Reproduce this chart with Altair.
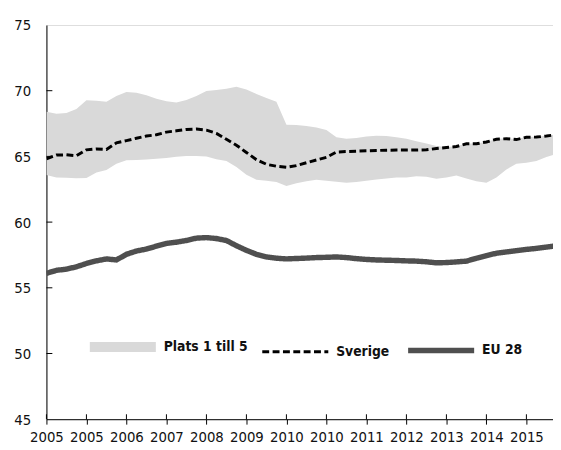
import json
import altair as alt
import pandas as pd

# ---- data (quarterly index 0..51) ----
tick_labels = ["2005", "2005", "2006", "2007", "2008", "2009", "2010",
               "2010", "2011", "2012", "2013", "2014", "2015"]

band_upper = [68.4, 68.25, 68.3, 68.6, 69.28, 69.23, 69.15, 69.6, 69.9, 69.85,
              69.65, 69.38, 69.2, 69.1, 69.3, 69.6, 69.98, 70.05, 70.15, 70.3,
              70.1, 69.75, 69.45, 69.15, 67.4, 67.38, 67.32, 67.2, 67.0, 66.45,
              66.35, 66.4, 66.52, 66.57, 66.55, 66.45, 66.35, 66.15, 65.98, 65.8,
              65.72, 65.78, 65.98, 65.98, 66.12, 66.32, 66.38, 66.32, 66.48, 66.5,
              66.57, 66.67]

band_lower = [63.58, 63.4, 63.37, 63.34, 63.35, 63.77, 63.96, 64.45, 64.7, 64.73,
              64.76, 64.82, 64.88, 64.97, 65.03, 65.03, 65.0, 64.78, 64.65, 64.2,
              63.6, 63.22, 63.15, 63.05, 62.75, 62.95, 63.1, 63.22, 63.15, 63.08,
              63.0, 63.05, 63.15, 63.25, 63.32, 63.4, 63.4, 63.48, 63.45, 63.3,
              63.4, 63.55, 63.32, 63.1, 63.0, 63.4, 64.0, 64.45, 64.52, 64.65,
              64.95, 65.2]

sverige = [64.82, 65.1, 65.12, 65.05, 65.5, 65.57, 65.53, 66.03, 66.2, 66.38,
           66.55, 66.65, 66.85, 66.95, 67.05, 67.08, 67.0, 66.75, 66.3, 65.85,
           65.3, 64.75, 64.4, 64.25, 64.17, 64.3, 64.52, 64.73, 64.93, 65.33,
           65.37, 65.4, 65.43, 65.45, 65.47, 65.48, 65.48, 65.48, 65.5, 65.6,
           65.68, 65.75, 65.96, 65.96, 66.1, 66.3, 66.35, 66.28, 66.46, 66.47,
           66.55, 66.65]

eu28 = [56.1, 56.33, 56.42, 56.6, 56.85, 57.05, 57.2, 57.12, 57.55, 57.8,
        57.95, 58.17, 58.38, 58.47, 58.6, 58.78, 58.82, 58.75, 58.6, 58.2,
        57.85, 57.55, 57.35, 57.25, 57.2, 57.23, 57.26, 57.3, 57.32, 57.35,
        57.3, 57.22, 57.16, 57.12, 57.1, 57.08, 57.05, 57.03, 56.98, 56.9,
        56.92, 56.97, 57.03, 57.25, 57.45, 57.63, 57.73, 57.83, 57.92, 58.0,
        58.1, 58.2]

series_names = ["Plats 1 till 5", "Sverige", "EU 28"]
series_colors = ["#d9d9d9", "#000000", "#4f4f4f"]
series_dashes = [[1, 0], [7, 3.5], [1, 0]]
series_widths = [10, 3, 5.5]

y_ticks = [45, 50, 55, 60, 65, 70, 75]

n = len(sverige)
idx = list(range(n))
df = pd.DataFrame({"idx": idx, "lower": band_lower, "upper": band_upper})
lines_df = pd.concat([
    pd.DataFrame({"idx": idx, "value": sverige, "series": "Sverige"}),
    pd.DataFrame({"idx": idx, "value": eu28, "series": "EU 28"}),
])
xtick_vals = list(range(0, 4 * len(tick_labels), 4))
xt_df = pd.DataFrame({"t": xtick_vals})
yt_df = pd.DataFrame({"v": y_ticks[1:-1]})

FONT = "'DejaVu Sans Condensed', 'Liberation Sans Narrow', Roboto, sans-serif"
W, H = 514, 400

xscale = alt.Scale(domain=[0, 50.66], nice=False, zero=False)
yscale = alt.Scale(domain=[45, 75], nice=False, zero=False)

label_expr = json.dumps(tick_labels) + "[round(datum.value / 4)]"
xaxis = alt.Axis(values=xtick_vals, labelExpr=label_expr, title=None, grid=False,
                 tickSize=5, tickColor="#000", domainColor="#000", tickWidth=1,
                 labelPadding=6, labelFont=FONT, labelFontSize=15,
                 labelColor="#111", labelFlush=False, labelOverlap=False)
yaxis = alt.Axis(values=y_ticks, title=None, grid=False, ticks=False,
                 domainColor="#000", labelPadding=16, labelFont=FONT,
                 labelFontSize=15, labelColor="#111")

band = alt.Chart(df).mark_area(color="#d9d9d9", clip=True).encode(
    x=alt.X("idx:Q", scale=xscale, axis=xaxis),
    y=alt.Y("lower:Q", scale=yscale, axis=yaxis),
    y2="upper:Q",
)

legend = alt.Legend(orient="none", legendX=39, legendY=288, direction="horizontal",
                    columns=3, title=None, symbolType="stroke", symbolSize=4489,
                    labelFont=FONT, labelFontSize=14, labelFontWeight="bold",
                    labelColor="#111", labelOffset=3, columnPadding=8)

lines = alt.Chart(lines_df).mark_line(clip=True).encode(
    x=alt.X("idx:Q", scale=xscale),
    y=alt.Y("value:Q", scale=yscale),
    color=alt.Color("series:N", scale=alt.Scale(domain=series_names, range=series_colors),
                    legend=legend),
    strokeDash=alt.StrokeDash("series:N", scale=alt.Scale(domain=series_names, range=series_dashes),
                              legend=legend),
    strokeWidth=alt.StrokeWidth("series:N", scale=alt.Scale(type="ordinal", domain=series_names,
                                                            range=series_widths),
                                legend=legend),
)

yticks = alt.Chart(yt_df).mark_rule(color="#000", strokeWidth=1).encode(
    y=alt.Y("v:Q", scale=yscale), x=alt.value(0), x2=alt.value(6))
xticks = alt.Chart(xt_df).mark_rule(color="#000", strokeWidth=1).encode(
    x=alt.X("t:Q", scale=xscale), y=alt.value(H - 5), y2=alt.value(H))

chart = alt.layer(band, lines, yticks, xticks).properties(
    width=W, height=H,
    autosize=alt.AutoSizeParams(type="none"),
    padding={"left": 39, "top": 14, "right": 0, "bottom": 28},
).configure_view(stroke="#000", strokeWidth=1).configure(background="white")

chart.save("out.html", embed_options={"renderer": "svg", "actions": False})
